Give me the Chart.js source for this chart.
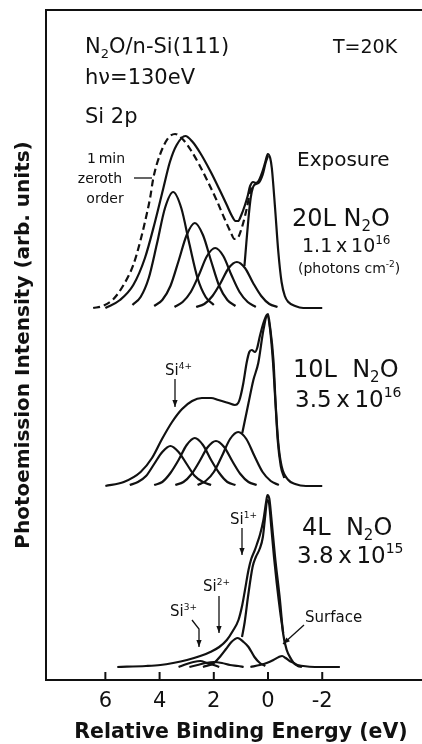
<!DOCTYPE html>
<html>
<head>
<meta charset="utf-8">
<script src="https://cdn.jsdelivr.net/npm/chart.js@4.4.0/dist/chart.umd.min.js"></script>
<style>
  html, body { margin: 0; padding: 0; background: #fff; }
  canvas { display: block; }
</style>
</head>
<body>
<canvas id="chart" width="422" height="744"></canvas>
<script>
// Si 2p spectra of N2O on n-Si(111).
// Points are [binding energy (eV), intensity above the spectrum baseline (arb.)]
const xTicks = [6, 4, 2, 0, -2];

// 20 L N2O, 1.1e16 photons/cm2
const total20 = [[6.0,0],[5.46,8],[4.97,23],[4.54,50],[4.17,86],[3.86,120],[3.62,146],[3.37,163],[3.05,172],[2.78,166],[2.5,155],[2.13,137],[1.8,119],[1.52,103],[1.35,93],[1.2,87],[1.1,87],[1.0,92],[0.85,103],[0.75,112],[0.66,122],[0.55,126],[0.45,125],[0.35,127],[0.2,137],[0.1,146],[0.01,154],[-0.08,150],[-0.14,140],[-0.26,100],[-0.38,56],[-0.5,26],[-0.62,12],[-0.75,6],[-1.0,2],[-1.3,0],[-2.0,0]];
const zeroth20 = [[6.45,0],[6.1,2],[5.7,9],[5.33,23],[4.97,43],[4.72,66],[4.54,86],[4.35,110],[4.23,130],[3.99,153],[3.68,170],[3.43,174],[3.12,168],[2.85,158],[2.55,144],[2.25,128],[1.9,108],[1.6,89],[1.38,76],[1.24,69],[1.12,70],[0.97,80],[0.78,100],[0.66,116],[0.55,124]];
const bulk20 = [[0.87,42],[0.8,65],[0.72,90],[0.64,110],[0.55,121],[0.45,124],[0.35,125],[0.2,133],[0.08,146],[0.0,152]];
const si4_20 = [[5.0,3],[4.7,11],[4.4,30],[4.1,64],[3.8,100],[3.5,116],[3.2,100],[2.9,64],[2.6,30],[2.3,11],[2.0,3]];
const si3_20 = [[4.2,2],[3.9,8],[3.6,22],[3.3,47],[3.0,73],[2.7,85],[2.4,73],[2.1,47],[1.8,22],[1.5,8],[1.2,2]];
const si2_20 = [[3.45,1],[3.15,6],[2.85,16],[2.55,33],[2.25,52],[1.95,60],[1.65,52],[1.35,33],[1.05,16],[0.75,6],[0.45,1]];
const si1_20 = [[2.65,1],[2.35,4],[2.05,12],[1.75,25],[1.45,40],[1.15,46],[0.85,40],[0.55,25],[0.25,12],[-0.05,4],[-0.35,1]];

// 10 L N2O, 3.5e16
const total10 = [[6.0,0],[5.32,4],[4.7,14],[4.28,28],[3.91,47],[3.54,64],[3.17,77],[2.8,85],[2.44,88],[2.1,88],[1.83,86],[1.46,83],[1.22,81],[1.1,83],[1.03,88],[0.91,103],[0.79,123],[0.69,134],[0.6,136],[0.48,134],[0.4,138],[0.3,150],[0.17,163],[0.05,171],[0.0,172],[-0.07,160],[-0.2,126],[-0.28,83],[-0.38,43],[-0.5,20],[-0.75,6],[-1.0,2],[-1.4,0],[-2.0,0]];
const bulk10 = [[0.95,53],[0.85,66],[0.72,83],[0.54,106],[0.36,123],[0.17,156],[0.03,170],[-0.07,158],[-0.18,125],[-0.27,85],[-0.36,45],[-0.47,20],[-0.6,8]];
const si4_10 = [[5.1,1],[4.8,4],[4.5,10],[4.2,22],[3.9,34],[3.6,40],[3.3,34],[3.0,22],[2.7,10],[2.4,4],[2.1,1]];
const si3_10 = [[4.2,1],[3.9,4],[3.6,13],[3.3,26],[3.0,41],[2.7,48],[2.4,41],[2.1,26],[1.8,13],[1.5,4],[1.2,1]];
const si2_10 = [[3.42,1],[3.12,4],[2.82,12],[2.52,25],[2.22,39],[1.92,45],[1.62,39],[1.32,25],[1.02,12],[0.72,4],[0.42,1]];
const si1_10 = [[2.6,1],[2.3,5],[2.0,14],[1.7,30],[1.4,47],[1.1,54],[0.8,47],[0.5,30],[0.2,14],[-0.1,5],[-0.4,1]];

// 4 L N2O, 3.8e15
const total4 = [[5.56,0],[4.5,1],[3.97,2],[3.5,4],[2.99,7],[2.5,11],[2.13,15],[1.8,20],[1.52,27],[1.3,36],[1.09,47],[0.95,62],[0.85,77],[0.72,97],[0.62,108],[0.5,116],[0.42,122],[0.3,132],[0.17,147],[0.07,165],[0.02,172],[-0.05,168],[-0.12,150],[-0.26,110],[-0.44,67],[-0.56,33],[-0.69,17],[-0.85,8],[-0.99,3],[-1.3,1],[-1.73,0],[-2.65,0]];
const bulk4 = [[0.96,30],[0.86,45],[0.74,70],[0.57,100],[0.45,110],[0.31,118],[0.19,130],[0.1,152],[0.03,167],[-0.03,165],[-0.12,140],[-0.22,110],[-0.32,84],[-0.45,55],[-0.56,34]];
const si1_4 = [[2.4,0],[2.0,4],[1.75,11],[1.55,18],[1.35,25],[1.12,29],[0.9,25],[0.72,20],[0.5,10],[0.3,4],[0.1,1]];
const si2_4 = [[2.9,0],[2.6,2],[2.3,4],[2.0,5],[1.7,4],[1.4,2],[1.1,1],[0.9,0]];
const si3_4 = [[3.3,0],[3.0,3],[2.75,5],[2.5,6],[2.25,4],[2.0,2],[1.8,0]];
const surf4 = [[0.65,0],[0.3,2],[0.05,4],[-0.2,7],[-0.4,10],[-0.52,11],[-0.65,9],[-0.8,6],[-0.95,4],[-1.1,1],[-1.25,0]];

// vertical offset of each spectrum's baseline
const base20 = 372, base10 = 194, base4 = 13;

function series(points, base, dashed) {
  return {
    data: points.map(p => ({ x: p[0], y: p[1] + base })),
    borderColor: '#111',
    borderWidth: 2.2,
    borderDash: dashed ? [7, 4] : [],
    pointRadius: 0,
    fill: false,
    cubicInterpolationMode: 'monotone'
  };
}

const FONT = '"DejaVu Sans"';

function drawRich(ctx, x, y, parts, size, weight, align) {
  const f = s => `${weight || 'normal'} ${s}px ${FONT}`;
  const segs = parts.map(p => typeof p === 'string'
    ? { t: p, s: size, dy: 0 }
    : { t: p[1], s: Math.round(size * 0.62), dy: p[0] === 'sup' ? -size * 0.42 : size * 0.22 });
  let w = 0;
  segs.forEach(s => { ctx.font = f(s.s); s.w = ctx.measureText(s.t).width; w += s.w; });
  let cx = align === 'center' ? x - w / 2 : x;
  segs.forEach(s => { ctx.font = f(s.s); ctx.fillText(s.t, cx, y + s.dy); cx += s.w; });
}

function arrow(ctx, pts) {
  ctx.beginPath();
  ctx.moveTo(pts[0][0], pts[0][1]);
  pts.slice(1).forEach(p => ctx.lineTo(p[0], p[1]));
  ctx.stroke();
  const [x1, y1] = pts[pts.length - 2], [x2, y2] = pts[pts.length - 1];
  const a = Math.atan2(y2 - y1, x2 - x1), L = 7, W = 2.6;
  ctx.beginPath();
  ctx.moveTo(x2, y2);
  ctx.lineTo(x2 - L * Math.cos(a) + W * Math.sin(a), y2 - L * Math.sin(a) - W * Math.cos(a));
  ctx.lineTo(x2 - L * Math.cos(a) - W * Math.sin(a), y2 - L * Math.sin(a) + W * Math.cos(a));
  ctx.closePath();
  ctx.fill();
}

// frame top edge, inward ticks, x title and all the text labels
const annotate = {
  id: 'annotate',
  afterDraw(chart) {
    const ctx = chart.ctx;
    const { left, right, top, bottom } = chart.chartArea;
    const xs = chart.scales.x;
    ctx.save();
    ctx.strokeStyle = '#111';
    ctx.fillStyle = '#111';
    ctx.lineWidth = 2;
    ctx.beginPath(); ctx.moveTo(left - 1, top); ctx.lineTo(right, top); ctx.stroke();
    xs.ticks.forEach(t => {
      const x = xs.getPixelForValue(t.value);
      ctx.beginPath(); ctx.moveTo(x, bottom); ctx.lineTo(x, bottom - 8); ctx.stroke();
    });

    ctx.textBaseline = 'alphabetic';
    ctx.textAlign = 'left';
    drawRich(ctx, 241, 738, ['Relative Binding Energy (eV)'], 20.5, 'bold', 'center');

    drawRich(ctx, 85, 53, ['N', ['sub', '2'], 'O/n-Si(111)'], 21);
    drawRich(ctx, 333, 53, ['T=20K'], 19);
    drawRich(ctx, 85, 84, ['h\u03bd=130eV'], 21);
    drawRich(ctx, 85, 123, ['Si 2p'], 21);

    drawRich(ctx, 106, 163, ['1\u2009min'], 14, null, 'center');
    drawRich(ctx, 100, 183, ['zeroth'], 14, null, 'center');
    drawRich(ctx, 105, 203, ['order'], 14, null, 'center');
    ctx.lineWidth = 1.3;
    ctx.beginPath(); ctx.moveTo(134, 178); ctx.lineTo(152, 178); ctx.stroke();

    drawRich(ctx, 297, 166, ['Exposure'], 20);
    drawRich(ctx, 292, 226, ['20L N', ['sub', '2'], 'O'], 24);
    drawRich(ctx, 302, 252, ['1.1\u2009x\u200910', ['sup', '16']], 19);
    drawRich(ctx, 298, 273, ['(photons cm', ['sup', '-2'], ')'], 14);

    drawRich(ctx, 293, 377, ['10L  N', ['sub', '2'], 'O'], 24);
    drawRich(ctx, 295, 407, ['3.5\u2009x\u200910', ['sup', '16']], 23);

    drawRich(ctx, 302, 535, ['4L  N', ['sub', '2'], 'O'], 24);
    drawRich(ctx, 297, 563, ['3.8\u2009x\u200910', ['sup', '15']], 23);

    drawRich(ctx, 165, 375, ['Si', ['sup', '4+']], 15);
    drawRich(ctx, 230, 524, ['Si', ['sup', '1+']], 15);
    drawRich(ctx, 203, 591, ['Si', ['sup', '2+']], 15);
    drawRich(ctx, 170, 616, ['Si', ['sup', '3+']], 15);
    drawRich(ctx, 305, 622, ['Surface'], 15);

    ctx.lineWidth = 1.3;
    arrow(ctx, [[175, 379], [175, 407]]);
    arrow(ctx, [[242, 528], [242, 555]]);
    arrow(ctx, [[219, 596], [219, 633]]);
    arrow(ctx, [[192, 620], [199, 629], [199, 647]]);
    arrow(ctx, [[304, 625], [283, 644]]);
    ctx.restore();
  }
};

new Chart(document.getElementById('chart'), {
  type: 'line',
  data: {
    datasets: [
      series(total20, base20), series(zeroth20, base20, true), series(bulk20, base20),
      series(si4_20, base20), series(si3_20, base20), series(si2_20, base20), series(si1_20, base20),
      series(total10, base10), series(bulk10, base10),
      series(si4_10, base10), series(si3_10, base10), series(si2_10, base10), series(si1_10, base10),
      series(total4, base4), series(bulk4, base4),
      series(si1_4, base4), series(si2_4, base4), series(si3_4, base4), series(surf4, base4)
    ]
  },
  plugins: [annotate],
  options: {
    responsive: false,
    animation: false,
    layout: { padding: { top: 10, right: 0, left: 0, bottom: 0 } },
    plugins: { legend: { display: false }, tooltip: { enabled: false } },
    scales: {
      x: {
        type: 'linear',
        reverse: true,
        min: -5.68,
        max: 8.19,
        afterBuildTicks: s => { s.ticks = xTicks.map(v => ({ value: v })); },
        afterFit: s => { s.height = 64; },
        grid: { display: false, drawTicks: false },
        border: { display: true, color: '#111', width: 2 },
        ticks: { color: '#111', padding: 9, font: { family: FONT, size: 21 } },
        title: { display: false }
      },
      y: {
        min: 0,
        max: 670,
        afterFit: s => { s.width = 46; },
        grid: { display: false, drawTicks: false },
        border: { display: true, color: '#111', width: 2 },
        ticks: { display: false },
        title: {
          display: true,
          text: 'Photoemission Intensity (arb. units)',
          color: '#111',
          font: { family: FONT, size: 20, weight: 'bold' },
          padding: { top: 12, bottom: 0 }
        }
      }
    }
  }
});
</script>
</body>
</html>
